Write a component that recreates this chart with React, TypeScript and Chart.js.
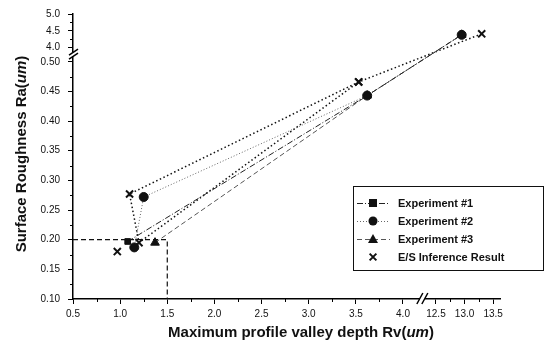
import React, { useEffect, useRef } from "react";
import { Chart, registerables } from "chart.js";
Chart.register(...registerables);

const EXP1_RV = [1.08, 3.62, 12.95];
const EXP1_RA = [0.197, 0.443, 4.38];
const EXP2_RV = [1.15, 1.25, 3.62, 12.95];
const EXP2_RA = [0.187, 0.272, 0.443, 4.38];
const EXP3_RV = [1.37, 3.62, 12.95];
const EXP3_RA = [0.195, 0.443, 4.38];
const ES_RV = [13.3, 3.53, 1.1, 1.2, 3.53, null, 0.97];
const ES_RA = [4.41, 0.466, 0.277, 0.195, 0.466, null, 0.18];
const TARGET_RV = [0.5, 1.5, 1.5];
const TARGET_RA = [0.2, 0.2, 0.1];

const X_TICKS = [0.5, 1.0, 1.5, 2.0, 2.5, 3.0, 3.5, 4.0, 12.5, 13.0, 13.5];
const X_TICK_LABELS = ["0.5", "1.0", "1.5", "2.0", "2.5", "3.0", "3.5", "4.0", "12.5", "13.0", "13.5"];
const X_MINOR = [0.75, 1.25, 1.75, 2.25, 2.75, 3.25, 3.75, 12.75, 13.25];
const Y_TICKS = [0.1, 0.15, 0.2, 0.25, 0.3, 0.35, 0.4, 0.45, 0.5, 4.0, 4.5, 5.0];
const Y_TICK_LABELS = ["0.10", "0.15", "0.20", "0.25", "0.30", "0.35", "0.40", "0.45", "0.50", "4.0", "4.5", "5.0"];
const Y_MINOR = [0.125, 0.175, 0.225, 0.275, 0.325, 0.375, 0.425, 0.475, 4.25, 4.75];

const SERIES_NAMES = ["Experiment #1", "Experiment #2", "Experiment #3", "E/S Inference Result"];

// ---------- broken-axis transforms ----------
const XB_LO = 4.18, XB_HI = 12.22, XK = 57 / 94;
const xv = (x: number | null) => (x == null ? null : x <= XB_LO ? x : XB_LO + (x - XB_HI) * XK);
const YB_LO = 0.512, YB_HI = 3.79, YK = 34 / 600;
const yv = (y: number | null) => (y == null ? null : y <= YB_LO ? y : YB_LO + (y - YB_HI) * YK);

const pts = (xs: (number | null)[], ys: (number | null)[]) =>
  xs.map((x, i) => ({ x: xv(x), y: yv(ys[i]) }));

const FONT = "'Liberation Sans', Arial, sans-serif";

const STYLES = [
  { dash: [6, 2, 1, 2], color: "#111", lineColor: "#222", point: "rect", r: 4 },
  { dash: [1, 2], color: "#111", lineColor: "#666", point: "circle", r: 4.5 },
  { dash: [5, 3], color: "#111", lineColor: "#555", point: "triangle", r: 5 },
  { dash: [1.5, 2.5], color: "#111", lineColor: "#111", point: "crossRot", r: 5 },
];

function drawMarker(ctx: CanvasRenderingContext2D, kind: string, x: number, y: number, r: number) {
  ctx.save();
  ctx.setLineDash([]);
  ctx.fillStyle = "#111";
  ctx.strokeStyle = "#111";
  ctx.lineWidth = 2;
  ctx.beginPath();
  if (kind === "rect") {
    ctx.fillRect(x - r, y - r, 2 * r, 2 * r);
  } else if (kind === "circle") {
    ctx.arc(x, y, r, 0, Math.PI * 2);
    ctx.fill();
  } else if (kind === "triangle") {
    ctx.moveTo(x, y - r);
    ctx.lineTo(x + r, y + r * 0.8);
    ctx.lineTo(x - r, y + r * 0.8);
    ctx.closePath();
    ctx.fill();
  } else {
    const d = r * 0.75;
    ctx.moveTo(x - d, y - d);
    ctx.lineTo(x + d, y + d);
    ctx.moveTo(x + d, y - d);
    ctx.lineTo(x - d, y + d);
    ctx.stroke();
  }
  ctx.restore();
}

function drawMixed(ctx: CanvasRenderingContext2D, parts: [string, boolean][], cx: number, cy: number, size: number) {
  let total = 0;
  const widths = parts.map(([t, it]) => {
    ctx.font = `${it ? "italic " : ""}bold ${size}px ${FONT}`;
    const w = ctx.measureText(t).width;
    total += w;
    return w;
  });
  let x = cx - total / 2;
  ctx.textBaseline = "middle";
  ctx.textAlign = "left";
  parts.forEach(([t, it], i) => {
    ctx.font = `${it ? "italic " : ""}bold ${size}px ${FONT}`;
    ctx.fillText(t, x, cy);
    x += widths[i];
  });
}

const decorPlugin = {
  id: "decor",
  afterDraw(chart: any) {
    const ctx: CanvasRenderingContext2D = chart.ctx;
    const xs = chart.scales.x;
    const ys = chart.scales.y;
    const a = chart.chartArea;
    ctx.save();
    ctx.strokeStyle = "#000";
    ctx.lineWidth = 1;
    // minor ticks
    ctx.beginPath();
    X_MINOR.forEach((v) => {
      const px = Math.round(xs.getPixelForValue(xv(v))) + 0.5;
      ctx.moveTo(px, a.bottom);
      ctx.lineTo(px, a.bottom + 3);
    });
    Y_MINOR.forEach((v) => {
      const py = Math.round(ys.getPixelForValue(yv(v))) + 0.5;
      ctx.moveTo(a.left - 3, py);
      ctx.lineTo(a.left, py);
    });
    ctx.stroke();

    // x-axis break
    const bx = xs.getPixelForValue(XB_LO + 0.02);
    ctx.fillStyle = "#fff";
    ctx.fillRect(bx - 2, a.bottom - 2, 5, 4);
    ctx.lineWidth = 1.5;
    ctx.beginPath();
    ctx.moveTo(bx - 5, a.bottom + 5);
    ctx.lineTo(bx + 1, a.bottom - 6);
    ctx.moveTo(bx, a.bottom + 5);
    ctx.lineTo(bx + 6, a.bottom - 6);
    ctx.stroke();

    // y-axis break
    const by = ys.getPixelForValue(YB_LO + 0.001);
    ctx.fillStyle = "#fff";
    ctx.fillRect(a.left - 2, by - 2, 4, 4);
    ctx.beginPath();
    ctx.moveTo(a.left - 4, by + 1);
    ctx.lineTo(a.left + 5, by - 5);
    ctx.moveTo(a.left - 4, by + 5);
    ctx.lineTo(a.left + 5, by - 1);
    ctx.stroke();

    // axis titles
    ctx.fillStyle = "#111";
    drawMixed(ctx, [["Maximum profile valley depth Rv(", false], ["um", true], [")", false]], 301, 333, 15);
    ctx.save();
    ctx.translate(22, 154);
    ctx.rotate(-Math.PI / 2);
    drawMixed(ctx, [["Surface Roughness Ra(", false], ["um", true], [")", false]], 0, 0, 15);
    ctx.restore();

    // legend
    const L = 353.5, T = 186.5, W = 190, H = 84;
    ctx.fillStyle = "#fff";
    ctx.fillRect(L, T, W, H);
    ctx.strokeStyle = "#111";
    ctx.lineWidth = 1;
    ctx.setLineDash([]);
    ctx.strokeRect(L, T, W, H);
    const rows = [203, 221, 239, 257];
    rows.forEach((ry, i) => {
      const s = STYLES[i];
      if (i < 3) {
        ctx.save();
        ctx.strokeStyle = s.lineColor;
        ctx.lineWidth = 1;
        ctx.setLineDash(s.dash);
        ctx.beginPath();
        ctx.moveTo(357, ry + 0.5);
        ctx.lineTo(390, ry + 0.5);
        ctx.stroke();
        ctx.restore();
      }
      drawMarker(ctx, s.point, 373, ry, i === 3 ? 4.5 : s.r);
      ctx.fillStyle = "#111";
      ctx.font = `bold 11px ${FONT}`;
      ctx.textAlign = "left";
      ctx.textBaseline = "middle";
      ctx.fillText(SERIES_NAMES[i], 398, ry + 1);
    });
    ctx.restore();
  },
};

export default function App() {
  const ref = useRef<HTMLCanvasElement>(null);
  useEffect(() => {
    if (!ref.current) return;
    const series = [
      pts(EXP1_RV, EXP1_RA),
      pts(EXP2_RV, EXP2_RA),
      pts(EXP3_RV, EXP3_RA),
      pts(ES_RV, ES_RA),
    ];
    const datasets: any[] = [
      {
        label: "target",
        data: pts(TARGET_RV, TARGET_RA),
        borderColor: "#111",
        borderWidth: 1.2,
        borderDash: [5, 3],
        pointRadius: 0,
        fill: false,
      },
      ...series.map((d, i) => ({
        label: SERIES_NAMES[i],
        data: d,
        borderColor: STYLES[i].lineColor,
        borderWidth: i === 3 ? 1.5 : 1,
        borderDash: STYLES[i].dash,
        pointStyle: STYLES[i].point,
        pointRadius: STYLES[i].r,
        pointBackgroundColor: STYLES[i].color,
        pointBorderColor: STYLES[i].color,
        pointBorderWidth: i === 3 ? 2 : 1,
        fill: false,
        tension: 0,
        spanGaps: false,
      })),
    ];
    const chart = new Chart(ref.current, {
      type: "line",
      data: { datasets },
      options: {
        animation: false,
        responsive: false,
        layout: { padding: { left: 0, top: 11, right: 51, bottom: 0 } },
        plugins: { legend: { display: false }, tooltip: { enabled: false } },
        scales: {
          x: {
            type: "linear",
            min: 0.5,
            max: xv(13.62) as number,
            afterBuildTicks: (s: any) => {
              s.ticks = X_TICKS.map((v) => ({ value: xv(v) }));
            },
            afterFit: (s: any) => {
              s.height = 46;
            },
            ticks: {
              autoSkip: false,
              maxRotation: 0,
              padding: 4,
              color: "#111",
              font: { family: FONT, size: 10 },
              callback: (_v: any, i: number) => X_TICK_LABELS[i],
            },
            grid: { display: true, drawOnChartArea: false, drawTicks: true, tickLength: 5, color: "#000", lineWidth: 1 },
            border: { display: true, color: "#000", width: 1.5 },
          },
          y: {
            type: "linear",
            min: 0.1,
            max: yv(5.0) as number,
            afterBuildTicks: (s: any) => {
              s.ticks = Y_TICKS.map((v) => ({ value: yv(v) }));
            },
            afterFit: (s: any) => {
              s.width = 73;
            },
            ticks: {
              autoSkip: false,
              padding: 8,
              color: "#111",
              font: { family: FONT, size: 10 },
              callback: (_v: any, i: number) => Y_TICK_LABELS[i],
            },
            grid: { display: true, drawOnChartArea: false, drawTicks: true, tickLength: 5, color: "#000", lineWidth: 1 },
            border: { display: true, color: "#000", width: 1.5 },
          },
        },
      },
      plugins: [decorPlugin],
    } as any);
    return () => chart.destroy();
  }, []);
  return (
    <div style={{ position: "fixed", left: 0, top: 0, width: 551, height: 345, background: "#fff" }}>
      <canvas ref={ref} width={551} height={345} style={{ width: 551, height: 345 }} />
    </div>
  );
}
